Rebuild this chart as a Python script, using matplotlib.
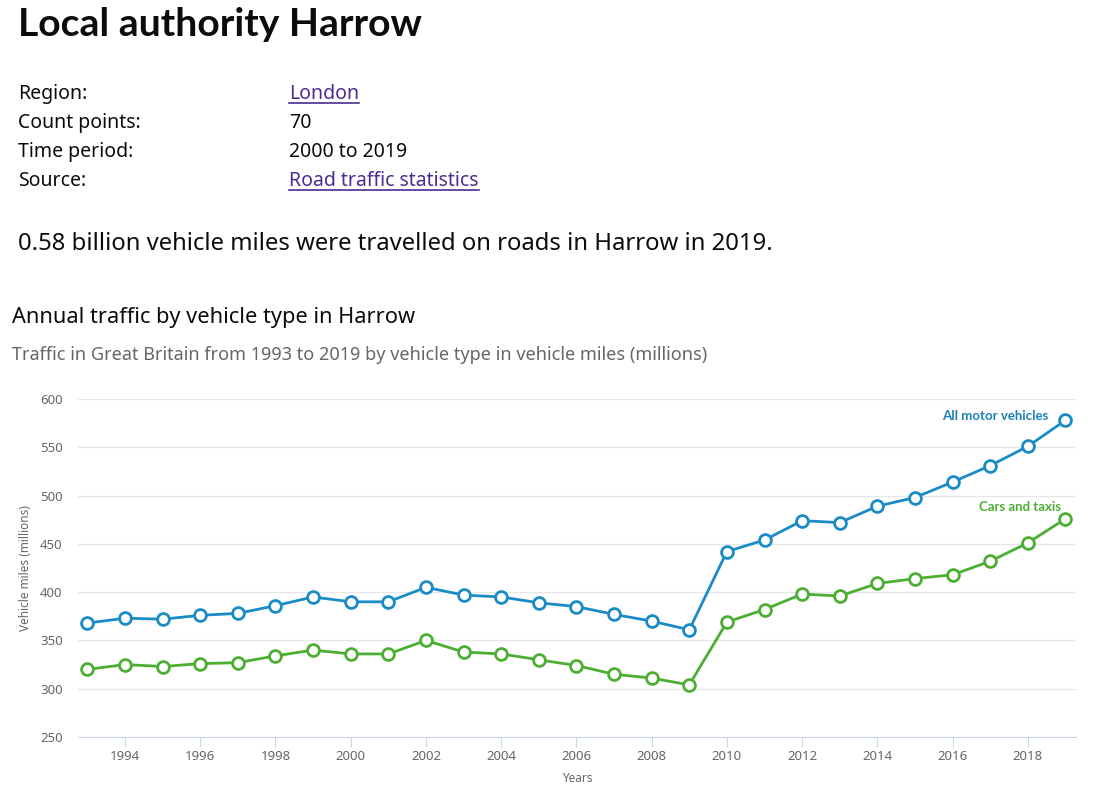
import matplotlib.pyplot as plt
from matplotlib.lines import Line2D

years = list(range(1993, 2020))
all_motor = [368, 373, 372, 376, 378, 386, 395, 390, 390, 405, 397, 395, 389, 385,
             377, 370, 361, 442, 454, 474, 472, 489, 498, 514, 531, 551, 578]
cars_taxis = [320, 325, 323, 326, 327, 334, 340, 336, 336, 350, 338, 336, 330, 324,
              315, 311, 304, 369, 382, 398, 396, 409, 414, 418, 432, 451, 476]

info_labels = ["Region:", "Count points:", "Time period:", "Source:"]
info_values = ["London", "70", "2000 to 2019", "Road traffic statistics"]
info_links = [True, False, False, True]

blue = "#1a8bc7"
green = "#4cae32"
link_color = "#4c2c92"
grey_text = "#666666"
bold_family = ["Lato", "DejaVu Sans"]

plt.rcParams["font.family"] = ["Noto Sans", "DejaVu Sans"]

fig = plt.figure(figsize=(10.95, 7.85), dpi=100)
W, H = 1095, 785


def fy(py):
    return 1 - py / H


fig.text(18 / W, fy(24), "Local authority Harrow", fontsize=28.2, fontweight="bold",
         family=bold_family, va="center", ha="left", color="#0b0c0c")

row_y = [94, 123, 152, 181]
texts_to_underline = []
for lab, val, link, py in zip(info_labels, info_values, info_links, row_y):
    fig.text(18 / W, fy(py), lab, fontsize=14, va="center", ha="left", color="#0b0c0c")
    t = fig.text(289 / W, fy(py), val, fontsize=14, va="center", ha="left",
                 color=link_color if link else "#0b0c0c")
    if link:
        texts_to_underline.append(t)

fig.text(18 / W, fy(244), "0.58 billion vehicle miles were travelled on roads in Harrow in 2019.",
         fontsize=17.2, va="center", ha="left", color="#0b0c0c")
fig.text(12 / W, fy(318), "Annual traffic by vehicle type in Harrow",
         fontsize=15.7, va="center", ha="left", color="#0b0c0c")
fig.text(12 / W, fy(355), "Traffic in Great Britain from 1993 to 2019 by vehicle type in vehicle miles (millions)",
         fontsize=13, va="center", ha="left", color=grey_text)

ax = fig.add_axes([78 / W, fy(737), 998 / W, 338 / H])
ax.plot(years, all_motor, color=blue, lw=2, marker="o", ms=8.5, mfc="white",
        mec=blue, mew=2, zorder=3, clip_on=False)
ax.plot(years, cars_taxis, color=green, lw=2, marker="o", ms=8.5, mfc="white",
        mec=green, mew=2, zorder=3, clip_on=False)

ax.annotate("All motor vehicles", (years[-1], all_motor[-1]), xytext=(-12, -1),
            textcoords="offset points", ha="right", va="bottom", fontsize=9.5,
            fontweight="bold", family=bold_family, color="#1d7fba")
ax.annotate("Cars and taxis", (years[-1], cars_taxis[-1]), xytext=(-3, 4),
            textcoords="offset points", ha="right", va="bottom", fontsize=9.5,
            fontweight="bold", family=bold_family, color=green)

ax.set_xlim(1992.75, 2019.28)
ax.set_ylim(250, 600)
ax.set_yticks(range(250, 601, 50))
ax.set_xticks(range(1994, 2019, 2))
ax.grid(axis="y", color="#e6e6e6", lw=1)
ax.set_axisbelow(True)
for s in ["top", "right", "left"]:
    ax.spines[s].set_visible(False)
ax.spines["bottom"].set_color("#ccd6eb")
ax.tick_params(axis="y", length=0, labelsize=9.5, labelcolor=grey_text, pad=11)
ax.tick_params(axis="x", length=7, color="#ccd6eb", labelsize=9.5, labelcolor=grey_text, pad=2)
ax.set_xlabel("Years", fontsize=8.5, color=grey_text, labelpad=7)
ax.set_ylabel("Vehicle miles (millions)", fontsize=8.5, color=grey_text, labelpad=6)

fig.canvas.draw()
renderer = fig.canvas.get_renderer()
for t in texts_to_underline:
    bb = t.get_window_extent(renderer=renderer)
    x0, x1 = bb.x0 / W, bb.x1 / W
    y = (bb.y0 + 1) / H
    fig.add_artist(Line2D([x0, x1], [y, y], color=link_color, lw=1.2,
                          transform=fig.transFigure))

fig.savefig("out.png", dpi=100, facecolor="white")
